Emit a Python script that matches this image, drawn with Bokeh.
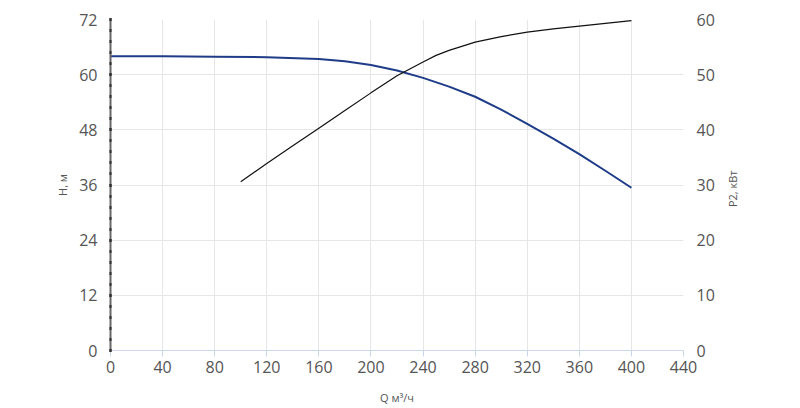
import math
from bokeh.models import Range1d, LinearAxis, FixedTicker
from bokeh.plotting import figure
from bokeh.embed import file_html
from bokeh.resources import INLINE

# head curve H(Q), m
q_h = [0, 40, 80, 120, 160, 180, 200, 220, 240, 260, 280, 300, 320, 340, 360, 380, 400]
h = [64.0, 64.0, 63.9, 63.8, 63.4, 62.9, 62.1, 60.9, 59.3, 57.4, 55.2, 52.4, 49.3, 46.1, 42.7, 39.1, 35.4]

# power curve P2(Q), kW
q_p = [100, 120, 140, 160, 180, 200, 220, 240, 250, 260, 280, 300, 320, 340, 360, 380, 400]
p2 = [30.6, 33.9, 37.1, 40.3, 43.5, 46.7, 49.8, 52.3, 53.5, 54.4, 55.9, 56.9, 57.7, 58.3, 58.8, 59.3, 59.8]

x_ticks = [0, 40, 80, 120, 160, 200, 240, 280, 320, 360, 400, 440]
h_ticks = [0, 12, 24, 36, 48, 60, 72]
p_ticks = [0, 10, 20, 30, 40, 50, 60]

FONT = "Open Sans"
LABEL_COLOR = "#555555"

p = figure(width=784, height=392, frame_width=573, frame_height=331,
           x_range=Range1d(0, 440), y_range=Range1d(0, 72),
           output_backend="svg", toolbar_location=None,
           min_border_left=110, min_border_right=101, min_border_top=19, min_border_bottom=10)
p.outline_line_color = None
p.extra_y_ranges = {"p2": Range1d(0, 60)}

p.xgrid.ticker = FixedTicker(ticks=x_ticks)
p.ygrid.ticker = FixedTicker(ticks=h_ticks)
p.xgrid.grid_line_color = "#e6e6e6"
p.ygrid.grid_line_color = "#e6e6e6"

# bottom axis
xa = p.xaxis[0]
xa.ticker = FixedTicker(ticks=x_ticks)
xa.axis_line_color = "#ccd6eb"
xa.major_tick_line_color = "#ccd6eb"
xa.major_tick_out = 6
xa.major_tick_in = 0
xa.minor_tick_line_color = None
xa.major_label_standoff = 4
xa.axis_label = "Q м³/ч"
xa.axis_label_standoff = 14

# left axis, dotted look from minor ticks
ya = p.yaxis[0]
ya.ticker = FixedTicker(ticks=h_ticks, minor_ticks=[i * 2.4 for i in range(31)])
ya.axis_line_color = "#666666"
ya.axis_line_width = 2
ya.major_tick_line_color = "#333333"
ya.major_tick_line_width = 3
ya.major_tick_in = 1
ya.major_tick_out = 1
ya.minor_tick_line_color = "#333333"
ya.minor_tick_line_width = 3
ya.minor_tick_in = 1
ya.minor_tick_out = 1
ya.major_label_standoff = 12
ya.axis_label = "H, м"
ya.axis_label_standoff = 6

# right axis
ra = LinearAxis(y_range_name="p2", ticker=FixedTicker(ticks=p_ticks))
ra.axis_line_color = None
ra.major_tick_line_color = None
ra.minor_tick_line_color = None
ra.major_label_standoff = 7
p.add_layout(ra, "right")

for ax in [xa, ya, ra]:
    ax.major_label_text_font = FONT
    ax.major_label_text_font_size = "16px"
    ax.major_label_text_color = LABEL_COLOR
    ax.axis_label_text_font = FONT
    ax.axis_label_text_font_size = "11px"
    ax.axis_label_text_font_style = "normal"
    ax.axis_label_text_color = LABEL_COLOR

# right axis title (reads bottom to top), drawn as a single rotated tick label
ta = LinearAxis(y_range_name="p2", ticker=FixedTicker(ticks=[26]),
                major_label_overrides={26: "P2, кВт"})
ta.axis_line_color = None
ta.major_tick_line_color = None
ta.minor_tick_line_color = None
ta.major_label_orientation = math.pi / 2
ta.major_label_standoff = 9
ta.major_label_text_font = FONT
ta.major_label_text_font_size = "11px"
ta.major_label_text_color = LABEL_COLOR
p.add_layout(ta, "right")

p.line(q_h, h, line_color="#1f3c88", line_width=2)
p.line(q_p, p2, line_color="#111111", line_width=1.2, y_range_name="p2")

open("out.html", "w").write(file_html(p, INLINE))
